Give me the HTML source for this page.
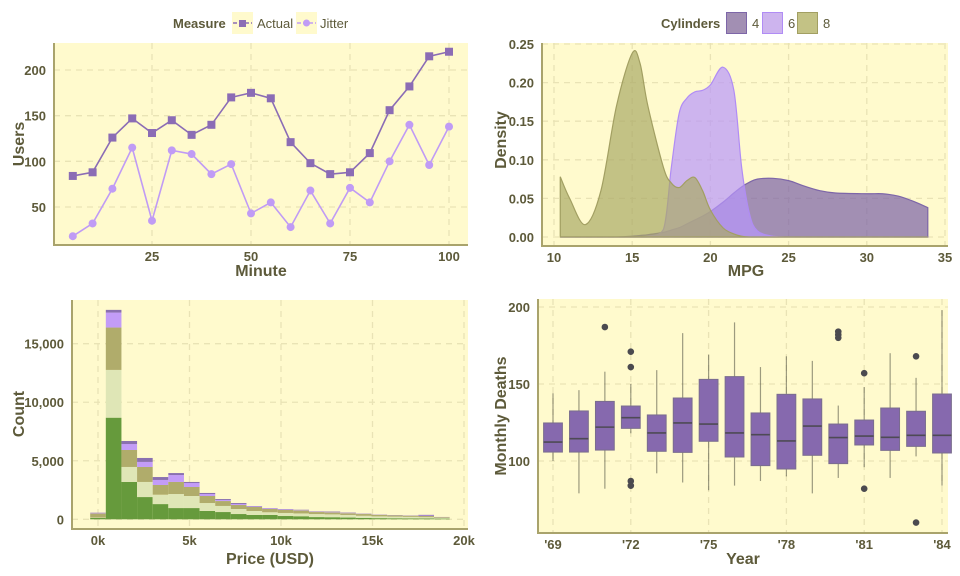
<!DOCTYPE html>
<html><head><meta charset="utf-8">
<style>
body{margin:0;background:#fff;width:960px;height:576px;overflow:hidden}
svg{display:block;font-family:"Liberation Sans",sans-serif}
.tick{font-size:13px;font-weight:bold;fill:#5d5a3a}
.ttl{font-size:16px;font-weight:bold;fill:#5d5a3a}
.leg{font-size:13px;fill:#5d5a3a}
</style></head>
<body>
<svg id="c" width="960" height="576"></svg>
<script>
// Panel 1: line chart
const minutes=[5,10,15,20,25,30,35,40,45,50,55,60,65,70,75,80,85,90,95,100];
const actual=[84,88,126,147,131,145,129,140,170,175,169,121,98,86,88,109,156,182,215,220];
const jitter=[18,32,70,115,35,112,108,86,97,43,55,28,68,32,71,55,100,140,96,138];
const p1XTicks=[25,50,75,100];
const p1YTicks=[50,100,150,200];
// Panel 2: density
const mpgGrid=[10.4,11,12,13,14,15,15.5,16,17,17.5,18,18.5,19,19.5,20,20.8,21.5,22,22.5,23,24,25,26,27,28,30,31,32,33,33.9];
const dens4=[0,0,0,0,0,0.001,0.002,0.003,0.006,0.009,0.012,0.017,0.022,0.027,0.033,0.045,0.057,0.065,0.071,0.075,0.076,0.073,0.066,0.06,0.057,0.056,0.056,0.053,0.046,0.038];
const dens6=[0,0,0,0,0,0,0,0.001,0.01,0.09,0.16,0.18,0.188,0.19,0.197,0.22,0.19,0.09,0.03,0.008,0.001,0,0,0,0,0,0,0,0,0];
const dens8=[0.078,0.05,0.016,0.06,0.17,0.238,0.225,0.17,0.09,0.07,0.064,0.073,0.077,0.06,0.035,0.012,0.004,0.001,0,0,0,0,0,0,0,0,0,0,0,0];
const p2XTicks=[10,15,20,25,30,35];
const p2YTicks=[0,0.05,0.1,0.15,0.2,0.25];
// Panel 3: stacked histogram (23 bins)
const binCenters=[0,854,1708,2562,3416,4270,5124,5978,6832,7686,8540,9394,10248,11102,11956,12810,13664,14518,15372,16226,17080,17934,18788];
const cutIdeal=[120,8680,3190,1900,1300,960,960,710,620,450,370,370,280,260,190,180,150,120,100,90,80,70,60];
const cutPremium=[30,4080,1280,1290,800,1200,1030,680,520,430,340,230,260,240,260,240,220,180,150,140,130,110,60];
const cutVeryGood=[350,3620,1450,1280,830,1030,770,600,420,340,340,280,260,260,170,170,150,150,120,100,90,100,60];
const cutGood=[50,1280,510,430,430,590,340,170,90,90,50,60,50,40,30,30,30,20,10,10,10,40,10];
const cutFair=[20,230,260,340,250,170,90,90,80,80,30,20,30,20,30,40,30,20,20,20,20,60,10];
const p3XTicks=[0,5000,10000,15000,20000];
const p3YTicks=[0,5000,10000,15000];
// Panel 4: boxplots
const years=[1969,1970,1971,1972,1973,1974,1975,1976,1977,1978,1979,1980,1981,1982,1983,1984];
const wLo=[100,79,82,118,92,86,81,84,87,90,79,89,96,89,103,84];
const q1=[105.8,105.8,107.1,121.2,106.3,105.6,112.8,102.6,97,94.8,103.7,98.3,110.4,106.9,109.5,105.2];
const med=[112.3,114.5,122,128.1,118.2,124.7,124,118.2,117.1,113,122.7,115.2,116.2,115.4,116.7,116.7];
const q3=[124.7,132.5,138.7,135.7,129.9,140.9,153,154.8,131.2,143.3,140.3,124,126.6,134.4,132.3,143.5];
const wHi=[144,146,158,150,159,183,169,190,161,168,165,136,148,170,154,198];
const outYears=[1971,1972,1972,1972,1972,1980,1980,1980,1981,1981,1983,1983];
const outVals=[187,171,161,87,84,180,182,184,157,82,168,60];
const p4XTicks=[1969,1972,1975,1978,1981,1984];
const p4YTicks=[100,150,200];

const NS='http://www.w3.org/2000/svg';
const svg=document.getElementById('c');
function el(tag,attrs,parent,text){const e=document.createElementNS(NS,tag);for(const k in attrs)e.setAttribute(k,attrs[k]);if(text!==undefined)e.textContent=text;(parent||svg).appendChild(e);return e;}
function group(name){const g=el('g',{},svg);


return g;}
function lin(d0,d1,r0,r1){return v=>r0+(v-d0)*(r1-r0)/(d1-d0);}
const GRID='#e9e3b5',AX='#a9a36c';
function frame(g,x0,y0,x1,y1,xs,ys,xt,yt,xf,yf){
 const bg=el('rect',{x:x0,y:y0,width:x1-x0,height:y1-y0,fill:'#fffacd'},g);
 
 
 xt.forEach(t=>{el('line',{x1:xs(t),x2:xs(t),y1:y0,y2:y1,stroke:GRID,'stroke-width':1.3,'stroke-dasharray':'6,5'},g);
  const tx=el('text',{x:xs(t),y:y1+16,'text-anchor':'middle',class:'tick'},g,xf(t));
  
  });
 yt.forEach(t=>{el('line',{x1:x0,x2:x1,y1:ys(t),y2:ys(t),stroke:GRID,'stroke-width':1.3,'stroke-dasharray':'6,5'},g);
  const ty=el('text',{x:x0-8,y:ys(t)+5,'text-anchor':'end',class:'tick'},g,yf(t));
  
  });
}
function axes(g,x0,y0,x1,y1){el('path',{d:`M${x0},${y0}V${y1}H${x1}`,fill:'none',stroke:AX,'stroke-width':2},g);}
function titles(g,xt,xx,xy,yt,yx,yy){
 const a=el('text',{x:xx,y:xy,'text-anchor':'middle',class:'ttl'},g,xt);
 
 
 const b=el('text',{x:0,y:0,'text-anchor':'middle',class:'ttl',transform:`translate(${yx},${yy}) rotate(-90)`},g,yt);
 
 
}
function smooth(pts){let d=`M${pts[0][0]},${pts[0][1]}`;for(let i=0;i<pts.length-1;i++){const p0=pts[i-1]||pts[i],p1=pts[i],p2=pts[i+1],p3=pts[i+2]||p2;
 const c1=[p1[0]+(p2[0]-p0[0])/6,p1[1]+(p2[1]-p0[1])/6],c2=[p2[0]-(p3[0]-p1[0])/6,p2[1]-(p3[1]-p1[1])/6];
 d+=`C${c1[0]},${c1[1]} ${c2[0]},${c2[1]} ${p2[0]},${p2[1]}`;}return d;}

// ---- Panel 1
{const g=group('line-chart-panel');
 const X0=54,Y0=43,X1=468,Y1=245;
 const xs=lin(25,100,152,449),ys=lin(50,200,207,70);
 frame(g,X0,Y0,X1,Y1,xs,ys,p1XTicks,p1YTicks,t=>t,t=>t);
 [[jitter,'#c09bf5','circle','jitter'],[actual,'#8b6cb5','square','actual']].forEach(([arr,col,shape,nm])=>{
  const p=el('polyline',{points:minutes.map((m,i)=>xs(m)+','+ys(arr[i])).join(' '),fill:'none',stroke:col,'stroke-width':1.6},g);
  
  
  minutes.forEach((m,i)=>{let mk;
   if(shape==='circle')mk=el('circle',{cx:xs(m),cy:ys(arr[i]),r:4,fill:col},g);
   else mk=el('rect',{x:xs(m)-4,y:ys(arr[i])-4,width:8,height:8,fill:col},g);
   
   });
 });
 axes(g,X0,Y0,X1,Y1);
 titles(g,'Minute',261,276,'Users',24,144);
 const lg=el('g',{},g);
 
 
 el('text',{x:173,y:28,class:'leg','font-weight':'bold'},lg,'Measure');
 el('rect',{x:232,y:12,width:21,height:22,fill:'#fffacd'},lg);
 el('line',{x1:233,x2:252,y1:23,y2:23,stroke:'#8b6cb5','stroke-width':1.5,'stroke-dasharray':'4,2'},lg);
 el('rect',{x:239,y:20,width:7,height:7,fill:'#8b6cb5'},lg);
 el('text',{x:257,y:28,class:'leg'},lg,'Actual');
 el('rect',{x:296,y:12,width:21,height:22,fill:'#fffacd'},lg);
 el('line',{x1:297,x2:316,y1:23,y2:23,stroke:'#c09bf5','stroke-width':1.5,'stroke-dasharray':'4,2'},lg);
 el('circle',{cx:306.5,cy:23,r:3.5,fill:'#c09bf5'},lg);
 el('text',{x:320,y:28,class:'leg'},lg,'Jitter');
}
// ---- Panel 2
{const g=group('density-chart-panel');
 const X0=542,Y0=43,X1=948,Y1=246;
 const xs=lin(10,35,554,945),ys=lin(0,0.25,237,44);
 frame(g,X0,Y0,X1,Y1,xs,ys,p2XTicks,p2YTicks,t=>t,t=>t.toFixed(2));
 [[dens4,'#7a61a8','#7d66a8','4'],[dens6,'#b896fc','#b08cf5','6'],[dens8,'#a9a966','#a29f62','8']].forEach(([arr,f,s,nm])=>{
  const pts=mpgGrid.map((m,i)=>[xs(m),ys(arr[i])]);
  let d=smooth(pts).replace(/C([^ ]+),([^ ]+) ([^ ]+),([^ ]+) /g,(a,x1,y1,x2,y2)=>`C${x1},${Math.min(+y1,ys(0))} ${x2},${Math.min(+y2,ys(0))} `);
  d+=`L${xs(mpgGrid[mpgGrid.length-1])},${ys(0)}L${xs(mpgGrid[0])},${ys(0)}Z`;
  const p=el('path',{d:d,fill:f,'fill-opacity':0.7,stroke:s,'stroke-width':1.2},g);
  
  
 });
 axes(g,X0,Y0,X1,Y1);
 titles(g,'MPG',746,276,'Density',506,140);
 const lg=el('g',{},g);
 
 
 el('text',{x:661,y:28,class:'leg','font-weight':'bold'},lg,'Cylinders');
 [['4',726,'#7a61a8','#7d66a8'],['6',762,'#b896fc','#b08cf5'],['8',797,'#a9a966','#a29f62']].forEach(([t,x,f,s])=>{
  el('rect',{x:x,y:12,width:21,height:22,fill:'#fffacd'},lg);
  el('rect',{x:x+0.5,y:12.5,width:20,height:21,fill:f,'fill-opacity':0.7,stroke:s},lg);
  el('text',{x:x+26,y:28,class:'leg'},lg,t);});
}
// ---- Panel 3
{const g=group('histogram-panel');
 const X0=72,Y0=300,X1=468,Y1=529;
 const xs=lin(0,20000,98,464),ys=lin(0,15000,519.3,343.7);
 frame(g,X0,Y0,X1,Y1,xs,ys,p3XTicks,p3YTicks,t=>(t/1000)+'k',t=>t.toLocaleString('en-US'));
 const series=[[cutIdeal,'#669a3c','ideal'],[cutPremium,'#dfe6b6','premium'],[cutVeryGood,'#b0ac6b','very-good'],[cutGood,'#c39cf7','good'],[cutFair,'#8a70b0','fair']];
 const bw=binCenters[1]-binCenters[0];
 binCenters.forEach((c,i)=>{let base=0;
  series.forEach(([arr,col,nm])=>{const v=arr[i];
   const r=el('rect',{x:xs(c-bw/2),y:ys(base+v),width:xs(c+bw/2)-xs(c-bw/2),height:ys(base)-ys(base+v),fill:col},g);
   
   
   base+=v;});});
 axes(g,X0,Y0,X1,Y1);
 titles(g,'Price (USD)',270,564,'Count',24,414);
}
// ---- Panel 4
{const g=group('boxplot-panel');
 const X0=538,Y0=299,X1=948,Y1=533;
 const xs=lin(1969,1984,553,942),ys=lin(100,200,461,307);
 frame(g,X0,Y0,X1,Y1,xs,ys,p4XTicks,p4YTicks,t=>"'"+String(t).slice(2),t=>t);
 const hw=9.4;
 years.forEach((yr,i)=>{const x=xs(yr);
  const w=el('line',{x1:x,x2:x,y1:ys(wLo[i]),y2:ys(wHi[i]),stroke:'#5a5a4a','stroke-opacity':0.6,'stroke-width':1.2},g);
  
  
  const b=el('rect',{x:x-hw,y:ys(q3[i]),width:2*hw,height:ys(q1[i])-ys(q3[i]),fill:'#8669ae',stroke:'#7a6d8e','stroke-width':1},g);
  
  
  const m=el('line',{x1:x-hw,x2:x+hw,y1:ys(med[i]),y2:ys(med[i]),stroke:'#4e4a55','stroke-width':1.6},g);
  
  
 });
 outYears.forEach((yr,i)=>{const o=el('circle',{cx:xs(yr),cy:ys(outVals[i]),r:3.3,fill:'#4b4a4f'},g);
  
  });
 axes(g,X0,Y0,X1,Y1);
 titles(g,'Year',743,564,'Monthly Deaths',506,416);
}
</script>
</body></html>
